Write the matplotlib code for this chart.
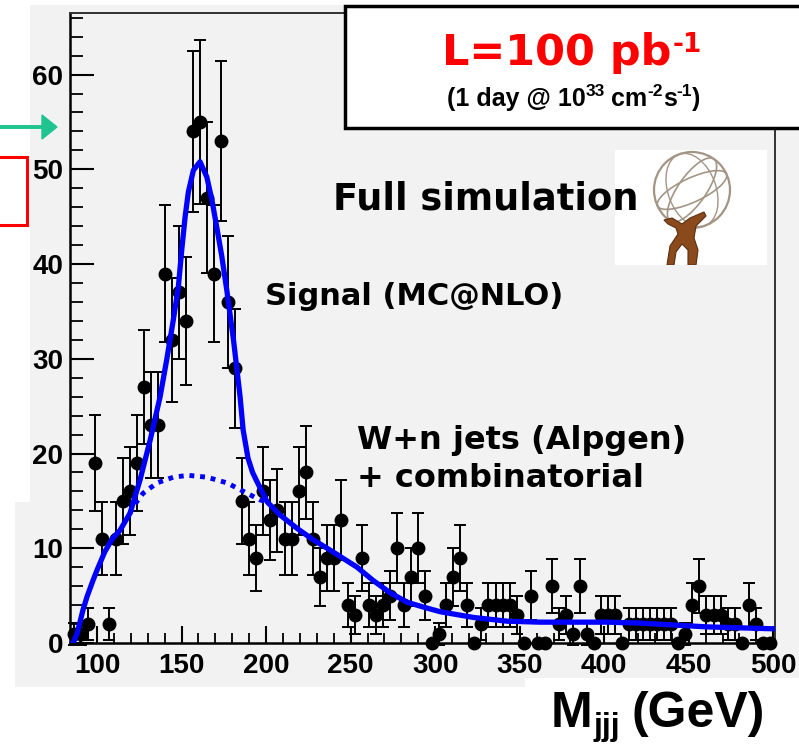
import numpy as np
import matplotlib
matplotlib.use("Agg")
import matplotlib.pyplot as plt
from matplotlib.patches import Rectangle, Circle, Ellipse, Polygon, FancyArrow

W, H = 799, 746

# histogram: 100 bins from 84 to 500 GeV
bin_edges = np.linspace(84, 500, 101)
counts = [1, 1, 2, 19, 11, 2, 11, 15, 16, 19,
          27, 23, 23, 39, 32, 37, 34, 54, 55, 47,
          39, 53, 36, 29, 15, 11, 9, 16, 13, 14,
          11, 11, 16, 18, 11, 7, 9, 9, 13, 4,
          3, 9, 4, 3, 4, 5, 10, 4, 7, 10,
          5, 0, 1, 4, 7, 9, 4, 0, 2, 4,
          4, 4, 4, 3, 0, 5, 0, 0, 6, 2,
          3, 1, 6, 1, 0, 3, 3, 3, 0, 2,
          2, 2, 2, 2, 2, 2, 0, 1, 4, 6,
          3, 3, 3, 2, 2, 0, 4, 2, 0, 0]
event_weight = 1.35

# fit: signal + background
fit_x = [85.8, 88.2, 91.7, 94.1, 97.6, 100.0, 104.5, 109.0, 113.6, 119.5,
         125.4, 131.4, 137.3, 141.2, 145.1, 148.1, 150.1, 152.1, 154.0, 157.0,
         160.9, 164.9, 167.9, 170.8, 173.8, 176.7, 180.7, 184.6, 186.4, 189.3,
         192.0, 194.7, 200.6, 208.3, 218.3, 227.8, 237.9, 253.8, 263.3, 273.4,
         283.4, 292.9, 303.0, 322.5, 342.6, 362.1, 381.7, 401.8, 421.3, 440.8,
         460.9, 480.5, 500.0]
fit_y = [0.0, 1.0, 3.5, 4.9, 6.6, 7.7, 9.6, 11.0, 11.9, 13.7,
         17.2, 21.4, 26.0, 29.9, 34.1, 37.6, 41.5, 45.0, 47.6, 49.9,
         50.8, 49.2, 46.8, 43.9, 40.8, 37.3, 32.0, 26.0, 22.5, 19.5,
         18.0, 17.0, 14.9, 13.5, 12.1, 10.9, 9.8, 8.0, 6.6, 5.3,
         4.3, 3.8, 3.3, 2.7, 2.3, 2.2, 2.2, 2.2, 2.1, 1.9,
         1.7, 1.6, 1.5]
# background only (dotted part)
bkg_x = [119.5, 121.3, 127.2, 135.5, 145.0, 153.8, 165.1, 176.9, 188.8, 196.4, 200.6]
bkg_y = [13.7, 14.4, 15.8, 16.9, 17.5, 17.7, 17.5, 16.9, 15.8, 15.1, 14.9]


def fig_rect(x0, y0, x1, y1):
    # pixel box (top-down) -> figure fraction
    return (x0 / W, 1 - y1 / H, (x1 - x0) / W, (y1 - y0) / H)


def add_box(box, z, **kw):
    x, y, w, h = fig_rect(*box)
    fig.patches.append(Rectangle((x, y), w, h, transform=fig.transFigure, zorder=z, **kw))


def pieces(x_px, y_px, parts, ha='center', **kw):
    # parts: (string, fontsize, baseline shift in px, gap before in px)
    r = fig.canvas.get_renderer()
    objs, widths = [], []
    for s, size, dy, gap in parts:
        t = fig.text(0, 0, s, fontsize=size, va='baseline', ha='left', **kw)
        objs.append(t)
        widths.append(t.get_window_extent(r).width + gap)
    x0 = x_px - sum(widths) / 2 if ha == 'center' else x_px
    for t, w, (s, size, dy, gap) in zip(objs, widths, parts):
        x0 += gap
        t.set_position((x0 / W, 1 - (y_px - dy) / H))
        x0 += w - gap


fig = plt.figure(figsize=(W / 100, H / 100), dpi=100)
fig.patch.set_facecolor('white')
gray = '#f2f2f2'
add_box((30, 5, 799, 687), -3, facecolor=gray, edgecolor='none')
add_box((15, 502, 30, 687), -3, facecolor=gray, edgecolor='none')
add_box((525, 678, 799, 746), -2, facecolor='white', edgecolor='none')

ax = fig.add_axes(fig_rect(70, 13, 775, 643))
ax.set_facecolor(gray)

centers = 0.5 * (bin_edges[:-1] + bin_edges[1:])
vals = np.array(counts, dtype=float)
errs = np.sqrt(vals * event_weight)
ax.errorbar(centers, vals, yerr=errs, fmt='o', color='black', ms=9,
            elinewidth=1.4, capsize=4, capthick=1.4, zorder=3, clip_on=False)
ax.plot(bkg_x, bkg_y, color='#0000ff', lw=3.5, ls=(0, (1, 1.2)), zorder=4)
ax.plot(fit_x, fit_y, color='#0000ff', lw=3.8, zorder=5, solid_joinstyle='round')

ax.set_xlim(84, 501)
ax.set_ylim(0, 66.5)
ax.set_xticks([100, 150, 200, 250, 300, 350, 400, 450, 500])
ax.set_xticks(np.arange(90, 501, 10), minor=True)
ax.set_yticks([0, 10, 20, 30, 40, 50, 60])
ax.set_yticks(np.arange(0, 67, 2), minor=True)
ax.tick_params(axis='x', which='major', direction='in', length=12, width=1.5, pad=7)
ax.tick_params(axis='x', which='minor', direction='in', length=7, width=1.3)
ax.tick_params(axis='y', which='major', direction='in', length=17, width=1.5, pad=5)
ax.tick_params(axis='y', which='minor', direction='in', length=9.5, width=1.3)
for lab in ax.get_xticklabels() + ax.get_yticklabels():
    lab.set_fontfamily('Liberation Sans')
    lab.set_fontweight('bold')
    lab.set_fontsize(20)
for side in ['left', 'bottom']:
    ax.spines[side].set_linewidth(1.8)
for side in ['top', 'right']:
    ax.spines[side].set_linewidth(1.4)
    ax.spines[side].set_color('#333333')

# logo-like picture
lax = fig.add_axes(fig_rect(615, 150, 767, 265))
lax.set_xlim(615, 767)
lax.set_ylim(265, 150)
lax.axis('off')
lax.add_patch(Rectangle((615, 150), 152, 115, facecolor='white', edgecolor='none'))
globe = '#a39585'
lax.add_patch(Circle((692, 190), 38, fill=False, ec=globe, lw=1.6))
lax.add_patch(Ellipse((692, 190), 28, 76, angle=35, fill=False, ec=globe, lw=1.2))
lax.add_patch(Ellipse((692, 190), 76, 24, angle=-25, fill=False, ec=globe, lw=1.2))
lax.add_patch(Ellipse((692, 190), 48, 76, angle=-20, fill=False, ec=globe, lw=1.0))
body = '#8a4a1c'
lax.add_patch(Polygon([[664, 220], [672, 218], [682, 224], [690, 218], [704, 212],
                       [706, 216], [696, 226], [694, 238], [698, 250], [696, 265],
                       [688, 265], [688, 250], [682, 244], [676, 252], [674, 265],
                       [667, 265], [670, 246], [678, 234], [676, 228], [668, 224]],
                      closed=True, fc=body, ec='#5a2e10', lw=0.8))

# annotations
txt = dict(fontweight='bold', family='DejaVu Sans', ha='left', va='baseline', zorder=10)
fig.text(333 / W, 1 - 209 / H, 'Full simulation', fontsize=26.5, **txt)
fig.text(265 / W, 1 - 305 / H, 'Signal (MC@NLO)', fontsize=22, **txt)
fig.text(357 / W, 1 - 449 / H, 'W+n jets (Alpgen)', fontsize=23, **txt)
fig.text(357 / W, 1 - 487 / H, '+ combinatorial', fontsize=23, **txt)

# luminosity box
add_box((345, 6, 810, 128), 6, facecolor='white', edgecolor='black', lw=2.5)
pieces(572, 65, [('L=100 pb', 31, 0, 0), ('-1', 19, 13, 2)],
       color='#ff0000', fontweight='bold', family='DejaVu Sans', zorder=7)
pieces(574, 106, [('(1 day @ 10', 18, 0, 0), ('33', 12.5, 10, 0), ('cm', 18, 0, 6),
                  ('-2', 12.5, 10, 0), ('s', 18, 0, 0), ('-1', 12.5, 10, 0), (')', 18, 0, 0)],
       color='black', fontweight='bold', family='Liberation Sans', zorder=7)

# x axis title
pieces(658, 727, [('M', 36, 0, 0), ('jjj', 23, -8, 1), ('(GeV)', 36, 0, 12)],
       color='black', fontweight='bold', family='Liberation Sans')

# arrow and red box at left edge
fig.patches.append(FancyArrow(0, 1 - 127 / H, 42 / W, 0, width=2.5 / H,
                              head_width=24 / H, head_length=15 / W,
                              length_includes_head=False, transform=fig.transFigure,
                              color='#1fc48e', zorder=8))
add_box((-20, 157, 27, 225), 8, facecolor='none', edgecolor='#ff0000', lw=2.2)

fig.savefig('out.png', dpi=100, facecolor=fig.get_facecolor())
